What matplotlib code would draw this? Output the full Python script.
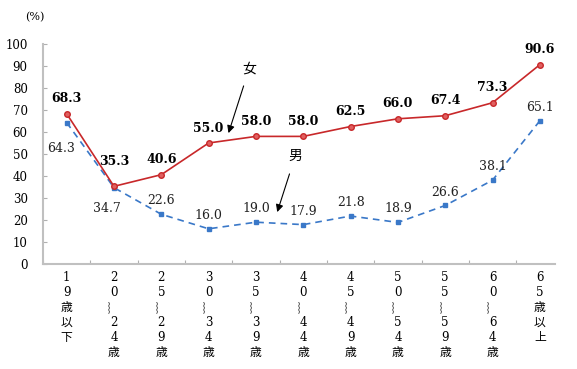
import matplotlib
matplotlib.use("Agg")
import matplotlib.pyplot as plt

plt.rcParams['font.family'] = ['DejaVu Serif', 'Noto Sans CJK JP', 'DejaVu Sans']

categories = ["1\n9\n歳\n以\n下", "2\n0\n︴\n2\n4\n歳", "2\n5\n︴\n2\n9\n歳", "3\n0\n︴\n3\n4\n歳",
              "3\n5\n︴\n3\n9\n歳", "4\n0\n︴\n4\n4\n歳", "4\n5\n︴\n4\n9\n歳", "5\n0\n︴\n5\n4\n歳",
              "5\n5\n︴\n5\n9\n歳", "6\n0\n︴\n6\n4\n歳", "6\n5\n歳\n以\n上"]
female = [68.3, 35.3, 40.6, 55.0, 58.0, 58.0, 62.5, 66.0, 67.4, 73.3, 90.6]
male = [64.3, 34.7, 22.6, 16.0, 19.0, 17.9, 21.8, 18.9, 26.6, 38.1, 65.1]
yticks = [0, 10, 20, 30, 40, 50, 60, 70, 80, 90, 100]

red = "#c8282a"
blue = "#3a78c8"

fig = plt.figure(figsize=(5.77, 3.69), dpi=100)
ax = fig.add_axes([43/577, 1-264/369, (555-43)/577, 220/369])

x = list(range(len(categories)))
ax.plot(x, male, linestyle=(0, (4, 3)), color=blue, lw=1.2, marker='s', ms=3.5,
        mfc=blue, mec=blue, zorder=3)
ax.plot(x, female, linestyle='-', color=red, lw=1.2, marker='o', ms=4,
        mfc="#e06060", mec=red, zorder=4)

for i, v in enumerate(female):
    dy = 13 if i == 1 else 6
    ax.annotate(f"{v:.1f}", (i, v), xytext=(0, dy), textcoords='offset points',
                ha='center', va='bottom', fontsize=9, fontweight='bold', color='black')

for i, v in enumerate(male):
    if i == 0:
        ax.annotate(f"{v:.1f}", (i, v), xytext=(-4, -14), textcoords='offset points',
                    ha='center', va='top', fontsize=9, color='#222222')
    elif i == 1:
        ax.annotate(f"{v:.1f}", (i, v), xytext=(-5, -10), textcoords='offset points',
                    ha='center', va='top', fontsize=9, color='#222222')
    else:
        ax.annotate(f"{v:.1f}", (i, v), xytext=(0, 5), textcoords='offset points',
                    ha='center', va='bottom', fontsize=9, color='#222222')

ax.annotate("女", xy=(3.42, 59.5), xytext=(3.86, 89), ha='center', va='center', fontsize=10,
            arrowprops=dict(arrowstyle='-|>', color='black', lw=0.8, mutation_scale=11,
                            shrinkA=6, shrinkB=0))
ax.annotate("男", xy=(4.45, 23.6), xytext=(4.83, 49), ha='center', va='center', fontsize=10,
            arrowprops=dict(arrowstyle='-|>', color='black', lw=0.8, mutation_scale=11,
                            shrinkA=6, shrinkB=0))

ax.set_xlim(-0.49, 10.32)
ax.set_ylim(0, 100)
ax.set_yticks(yticks)
ax.set_yticklabels([str(t) for t in yticks], fontsize=8.5)
ax.set_xticks([i - 0.5 for i in range(11)], minor=False)
ax.set_xticklabels([])
ax.tick_params(axis='x', direction='in', length=3, color='#b0b0b0')
ax.tick_params(axis='y', direction='in', length=3, color='#b0b0b0', pad=11)
for i, c in enumerate(categories):
    ax.text(i, -3.2, c, ha='center', va='top', fontsize=8.5, linespacing=1.2,
            transform=ax.transData)

for s in ['top', 'right']:
    ax.spines[s].set_visible(False)
for s in ['left', 'bottom']:
    ax.spines[s].set_color('#c0c0c0')
    ax.spines[s].set_linewidth(1.5)

fig.text(35/577, 1-17/369, "(%)", ha='center', va='center', fontsize=8)

fig.savefig("out.png", dpi=100)
